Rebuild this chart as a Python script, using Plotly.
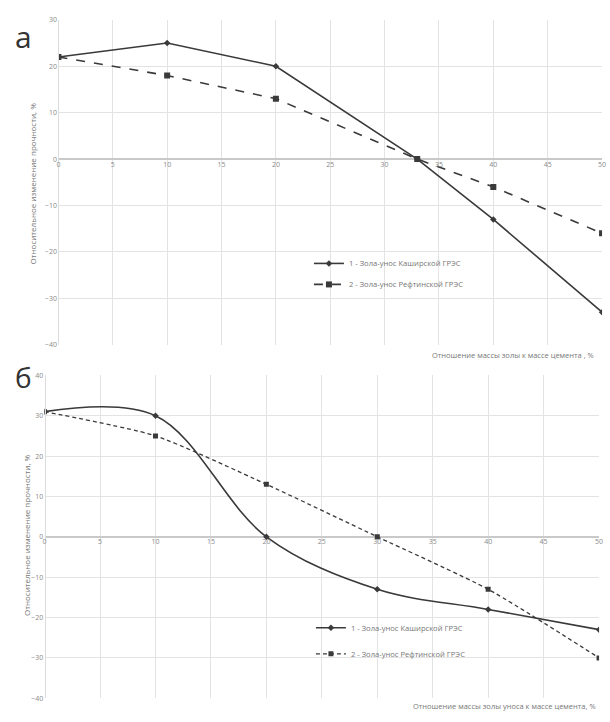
import plotly.graph_objects as go

# ---- data ----
x_a = [0, 10, 20, 33, 40, 50]
kash_a = [22, 25, 20, 0, -13, -33]
reft_a = [22, 18, 13, 0, -6, -16]

x_b = [0, 10, 20, 30, 40, 50]
kash_b = [31, 30, 0, -13, -18, -23]
reft_b = [31, 25, 13, 0, -13, -30]

name1 = "1 - Зола-унос Каширской ГРЭС"
name2 = "2 - Зола-унос Рефтинской ГРЭС"
xticks = [0, 5, 10, 15, 20, 25, 30, 35, 40, 45, 50]
yticks_a = [30, 20, 10, 0, -10, -20, -30, -40]
yticks_b = [40, 30, 20, 10, 0, -10, -20, -30, -40]

W, H = 610, 722
FONT = "Open Sans"
LC = "#3a3a3a"
TC = "#8a8a8a"
GRID = "#e3e3e3"

fig = go.Figure()

fig.add_trace(go.Scatter(x=x_a, y=kash_a, name=name1, mode="lines+markers",
                         line=dict(color=LC, width=1.6),
                         marker=dict(symbol="diamond", size=5, color=LC),
                         xaxis="x", yaxis="y", legend="legend", legendgroup="a1"))
fig.add_trace(go.Scatter(x=x_a, y=reft_a, name=name2, mode="lines+markers",
                         line=dict(color=LC, width=1.6, dash="dash"),
                         marker=dict(symbol="square", size=6, color=LC),
                         xaxis="x", yaxis="y", legend="legend", legendgroup="a2"))
fig.add_trace(go.Scatter(x=x_b, y=kash_b, name=name1, mode="lines+markers",
                         line=dict(color=LC, width=1.6, shape="spline", smoothing=1.0),
                         marker=dict(symbol="diamond", size=5, color=LC),
                         xaxis="x2", yaxis="y2", legend="legend2", legendgroup="b1"))
fig.add_trace(go.Scatter(x=x_b, y=reft_b, name=name2, mode="lines+markers",
                         line=dict(color=LC, width=1.3, dash="4px,3px", shape="spline", smoothing=0.6),
                         marker=dict(symbol="square", size=5, color=LC),
                         xaxis="x2", yaxis="y2", legend="legend2", legendgroup="b2"))

def px_x(p):
    return p / W

def px_y(p):
    return 1 - p / H

tickfont = dict(family=FONT, size=7, color=TC)

xcommon = dict(range=[0, 50], tickvals=xticks, showgrid=True, gridcolor=GRID, gridwidth=1,
               zeroline=False, showline=False, ticks="", tickfont=tickfont,
               anchor="free", fixedrange=True)
ycommon = dict(range=[-40, 40], showgrid=True, gridcolor=GRID, gridwidth=1,
               zeroline=True, zerolinecolor="#c9c9c9", zerolinewidth=2,
               showline=True, linecolor="#dcdcdc", linewidth=1, ticks="",
               tickfont=tickfont, fixedrange=True)

legfont = dict(family=FONT, size=7.6, color="#777")

fig.update_layout(
    width=W, height=H,
    margin=dict(l=0, r=0, t=0, b=0),
    paper_bgcolor="white", plot_bgcolor="white",
    showlegend=True,
    xaxis=dict(xcommon, domain=[px_x(57), px_x(606)], position=px_y(156)),
    yaxis=dict(ycommon, range=[-40, 30], tickvals=yticks_a,
               domain=[px_y(344), px_y(15)], anchor="free", position=px_x(57)),
    xaxis2=dict(xcommon, domain=[px_x(43), px_x(603)], position=px_y(538)),
    yaxis2=dict(ycommon, range=[-40, 40], tickvals=yticks_b,
                domain=[px_y(702), px_y(375)], anchor="free", position=px_x(43)),
    legend=dict(x=px_x(310), y=px_y(247), xanchor="left", yanchor="top",
                bgcolor="rgba(0,0,0,0)", font=legfont,
                traceorder="grouped", tracegroupgap=2, itemwidth=30),
    legend2=dict(x=px_x(312), y=px_y(616), xanchor="left", yanchor="top",
                 bgcolor="rgba(0,0,0,0)", font=legfont,
                 traceorder="grouped", tracegroupgap=7, itemwidth=30),
)

annots = [
    dict(text="а", x=px_x(22), y=px_y(32), font=dict(family=FONT, size=30, color="#333")),
    dict(text="б", x=px_x(22), y=px_y(377), font=dict(family=FONT, size=28, color="#333")),
    dict(text="Относительное изменение прочности, %", x=px_x(31), y=px_y(181), textangle=-90,
         font=dict(family=FONT, size=8, color="#777")),
    dict(text="Относительное изменение прочности, %", x=px_x(25), y=px_y(537), textangle=-90,
         font=dict(family=FONT, size=8, color="#777")),
    dict(text="Отношение массы золы к массе цемента , %", x=px_x(600), y=px_y(354), xanchor="right",
         font=dict(family=FONT, size=7.5, color="#777")),
    dict(text="Отношение массы золы уноса к массе цемента, %", x=px_x(602), y=px_y(710), xanchor="right",
         font=dict(family=FONT, size=7.5, color="#777")),
]
for a in annots:
    a.setdefault("xanchor", "center")
    fig.add_annotation(xref="paper", yref="paper", showarrow=False, yanchor="middle", **a)

fig.write_html("out.html", config={"displayModeBar": False},
               post_script="document.body.style.margin='0';document.body.style.overflow='hidden';")
